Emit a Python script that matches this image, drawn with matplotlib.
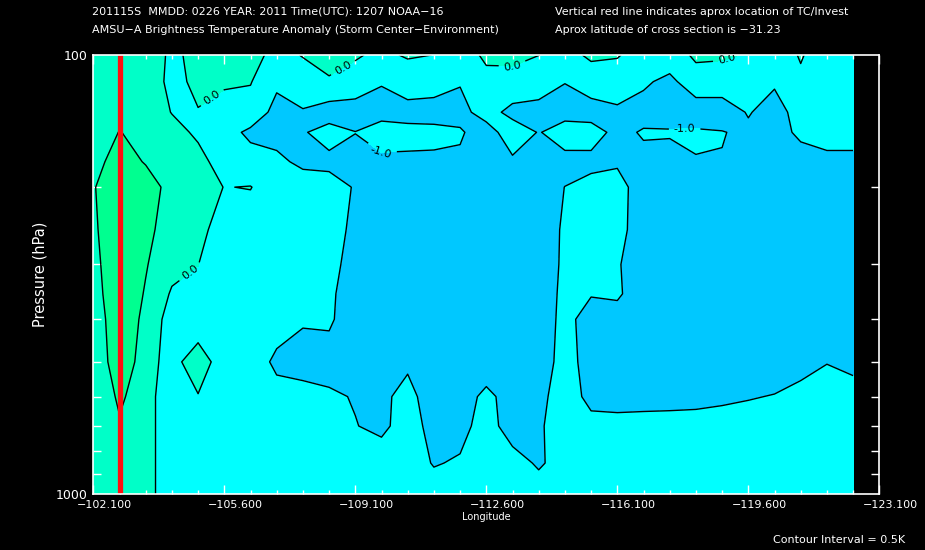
import matplotlib
matplotlib.use("Agg")
import matplotlib.pyplot as plt
import matplotlib.transforms as mtransforms
from matplotlib.ticker import FixedLocator, NullFormatter

# longitude grid of the cross section (deg)
LONS = [-102.1, -102.8, -103.5, -104.2, -104.9, -105.6, -106.3, -107.0, -107.7, -108.4,
        -109.1, -109.8, -110.5, -111.2, -111.9, -112.6, -113.3, -114.0, -114.7, -115.4,
        -116.1, -116.8, -117.5, -118.2, -118.9, -119.6, -120.3, -121.0, -121.7, -122.4]
# pressure levels (hPa)
PRES = [100, 115, 135, 150, 175, 200, 250, 300, 350, 400, 500, 600, 700, 850, 1000]

# brightness temperature anomaly (K), one row per pressure level
T100 = [0.3, 0.35, 0.25, -0.08, 0.11, 0.2, 0.23, -0.2, 0.03, 0.2, 0.1, -0.2, 0.1, -0.01, -0.4,
        0.15, 0.2, 0.01, -0.3, 0.15, 0.05, -0.3, -0.45, 0.15, 0.1, -0.05, -0.5, 0.075, -0.5, -0.5]
T115 = [0.3, 0.38, 0.45, -0.2, 0.15, 0.1, 0.05, -0.84, -0.3, -0.06, -0.4, -0.95, -0.6, -0.7, -0.94,
        -0.25, -0.3, -0.6, -0.98, -0.5, -0.37, -0.85, -1.25, -0.4, -0.4, -0.5, -0.85, -0.17, -0.6, -0.6]
T135 = [0.3, 0.42, 0.35, -0.02, -0.03, -0.3, -0.4, -1.3, -1.1, -1.55, -1.5, -1.3, -1.3, -1.3, -1.3,
        -0.6, -1.3, -1.3, -1.3, -1.45, -1.22, -1.4, -1.3, -1.6, -1.6, -0.915, -1.5, -0.5, -0.7, -0.7]
T150 = [0.3, 0.51, 0.4, 0.2, -0.1, -0.63, -1.2, -1.3, -1.1, -0.55, -0.98, -0.6, -0.75, -0.79, -0.9,
        -1.45, -0.44, -1.05, -0.6, -0.55, -1.3, -0.895, -0.94, -0.86, -0.95, -1.23, -1.4, -0.8, -0.85, -0.85]
T175 = [0.3, 0.75, 0.46, 0.3, 0.2, -0.28, -0.6, -0.8, -1.2, -1.3, -1.4, -1.2, -1.15, -1.15, -1.15,
        -1.4, -1.17, -1.3, -1.27, -1.3, -1.1, -1.3, -1.24, -1.05, -1.05, -1.3, -1.4, -1.45, -1.1, -1.1]
T200 = [0.46, 0.9, 0.78, 0.3, 0.38, -0.02, 0.03, -0.5, -0.5, -0.5, -1.09, -1.4, -1.4, -1.4, -1.4,
        -1.4, -1.4, -1.4, -0.99, -0.63, -0.7, -1.41, -1.4, -1.4, -1.4, -1.4, -1.4, -1.4, -1.4, -1.4]
T250 = [0.4, 0.95, 0.61, 0.3, 0.3, -0.47, -0.5, -0.5, -0.6, -0.6, -1.215, -1.4, -1.4, -1.4, -1.4,
        -1.4, -1.4, -1.4, -0.9, -0.6, -0.75, -1.4, -1.4, -1.4, -1.4, -1.4, -1.4, -1.4, -1.4, -1.4]
T300 = [0.32, 0.95, 0.535, 0.15, 0.01, -0.5, -0.6, -0.6, -0.7, -0.7, -1.37, -1.4, -1.4, -1.4, -1.4,
        -1.4, -1.4, -1.4, -0.88, -0.6, -0.92, -1.5, -1.4, -1.4, -1.4, -1.4, -1.4, -1.4, -1.4, -1.4]
T350 = [0.27, 0.9, 0.456, -0.056, -0.2, -0.5, -0.6, -0.6, -0.8, -0.85, -1.43, -1.4, -1.4, -1.4, -1.4,
        -1.4, -1.4, -1.4, -0.83, -0.96, -0.9, -1.4, -1.4, -1.4, -1.4, -1.4, -1.4, -1.4, -1.4, -1.4]
T400 = [0.19, 0.85, 0.377, -0.23, -0.55, -0.55, -0.6, -0.6, -0.93, -0.9, -1.4, -1.4, -1.4, -1.4, -1.4,
        -1.4, -1.4, -1.4, -0.79, -1.3, -1.3, -1.4, -1.4, -1.4, -1.4, -1.4, -1.4, -1.4, -1.4, -1.4]
T500 = [0.15, 0.78, 0.3, -0.3, 0.5, -0.5, -0.46, -1.2, -1.3, -1.3, -1.4, -1.4, -1.1, -1.4, -1.4,
        -1.45, -1.4, -1.4, -0.71, -1.3, -1.4, -1.4, -1.4, -1.4, -1.4, -1.4, -1.4, -1.3, -1.02, -1.3]
T600 = [0.2, 0.56, 0.3, -0.5, -0.05, -0.55, -0.5, -0.64, -0.72, -0.88, -1.05, -1.13, -0.8, -1.34, -1.39,
        -0.8, -1.34, -1.2, -0.64, -1.2, -1.2, -1.2, -1.2, -1.2, -1.1, -1.05, -0.965, -0.72, -0.7, -0.5]
T700 = [0.2, 0.46, 0.3, -0.5, -0.5, -0.5, -0.5, -0.5, -0.5, -0.5, -0.97, -1.2, -0.6, -1.3, -1.3,
        -0.6, -1.45, -1.1, -0.62, -0.77, -0.82, -0.79, -0.765, -0.72, -0.755, -0.63, -0.6, -0.6, -0.6, -0.5]
T850 = [0.2, 0.3, 0.3, -0.5, -0.5, -0.5, -0.5, -0.5, -0.5, -0.5, -0.5, -0.49, -0.5, -1.07, -0.89,
        -0.5, -0.6, -1.13, -0.6, -0.6, -0.6, -0.6, -0.6, -0.6, -0.6, -0.5, -0.5, -0.5, -0.5, -0.5]
T1000 = [0.2, 0.3, 0.3, -0.5, -0.5, -0.5, -0.5, -0.5, -0.5, -0.5, -0.5, -0.5, -0.5, -0.5, -0.5,
         -0.5, -0.5, -0.5, -0.5, -0.5, -0.5, -0.5, -0.5, -0.5, -0.5, -0.5, -0.5, -0.5, -0.5, -0.5]
ANOM = [T100, T115, T135, T150, T175, T200, T250, T300, T350, T400, T500, T600, T700, T850, T1000]

TC_LON = -102.8
LAT = -31.23
FILL_LEVELS = [-3.0, -1.0, 0.0, 0.5, 3.0]
FILL_COLORS = ["#00c8ff", "#00ffff", "#00ffc8", "#00ff90"]
LINE_LEVELS = [-1.0, 0.0, 0.5]
XTICKS = [-102.1, -105.6, -109.1, -112.6, -116.1, -119.6, -123.1]

fig = plt.figure(figsize=(9.25, 5.5), dpi=100, facecolor="black")
ax = fig.add_axes([93.3 / 925, 56 / 550, 786 / 925, 439 / 550])
ax.set_facecolor("black")

ax.contourf(LONS, PRES, ANOM, levels=FILL_LEVELS, colors=FILL_COLORS)
cs = ax.contour(LONS, PRES, ANOM, levels=LINE_LEVELS, colors="black",
                linewidths=1.0, linestyles="solid")
ax.axvline(TC_LON, color="#ff1010", lw=3.8)

ax.set_yscale("log")
ax.set_xlim(XTICKS[0], XTICKS[-1])
ax.set_ylim(1000, 100)

# contour labels
lab_pos = [(-108.8, 108), (-105.3, 126), (-104.6, 305), (-113.3, 107), (-119.0, 101),
           (-109.8, 166), (-117.9, 147)]
ax.clabel(cs, levels=[-1.0, 0.0], fmt="%.1f", fontsize=8, inline=True, manual=lab_pos)

# axes cosmetics
ax.set_xticks(XTICKS)
ax.set_xticklabels([f"{v:.3f}".replace("-", "\u2212") for v in XTICKS])
ax.xaxis.set_minor_locator(FixedLocator([XTICKS[0] - 0.7 * i for i in range(31)]))
ax.set_yticks([100, 1000])
ax.set_yticklabels(["100", "1000"])
ax.yaxis.set_minor_locator(FixedLocator([200, 300, 400, 500, 600, 700, 800, 900]))
ax.yaxis.set_minor_formatter(NullFormatter())

ax.tick_params(which="both", direction="in", colors="white", top=True, right=True,
               labelsize=8, width=1)
ax.tick_params(axis="x", which="major", length=6.5, pad=4)
ax.tick_params(axis="x", which="minor", length=3)
ax.tick_params(axis="y", which="major", length=0, pad=4, labelsize=9)
ax.tick_params(axis="y", which="minor", length=5.5)
for sp in ax.spines.values():
    sp.set_color("white")
    sp.set_linewidth(1.2)

shift = mtransforms.ScaledTranslation(11 / 100, 0, fig.dpi_scale_trans)
for lbl in ax.get_xticklabels():
    lbl.set_transform(lbl.get_transform() + shift)

ax.set_xlabel("Longitude", color="white", fontsize=7, labelpad=2)
ax.set_ylabel("Pressure (hPa)", color="white", fontsize=10.5, labelpad=6)

fig.text(92 / 925, 1 - 12 / 550, "201115S  MMDD: 0226 YEAR: 2011 Time(UTC): 1207 NOAA\u221216",
         color="white", fontsize=8, va="center")
fig.text(92 / 925, 1 - 30 / 550, "AMSU\u2212A Brightness Temperature Anomaly (Storm Center\u2212Environment)",
         color="white", fontsize=8, va="center")
fig.text(555 / 925, 1 - 12 / 550, "Vertical red line indicates aprox location of TC/Invest",
         color="white", fontsize=8, va="center")
fig.text(555 / 925, 1 - 30 / 550, f"Aprox latitude of cross section is \u2212{abs(LAT):.2f}",
         color="white", fontsize=8, va="center")
fig.text(905 / 925, 1 - 540 / 550, "Contour Interval = 0.5K", color="white", fontsize=8,
         ha="right", va="center")

fig.savefig("out.png", dpi=100, facecolor="black")
